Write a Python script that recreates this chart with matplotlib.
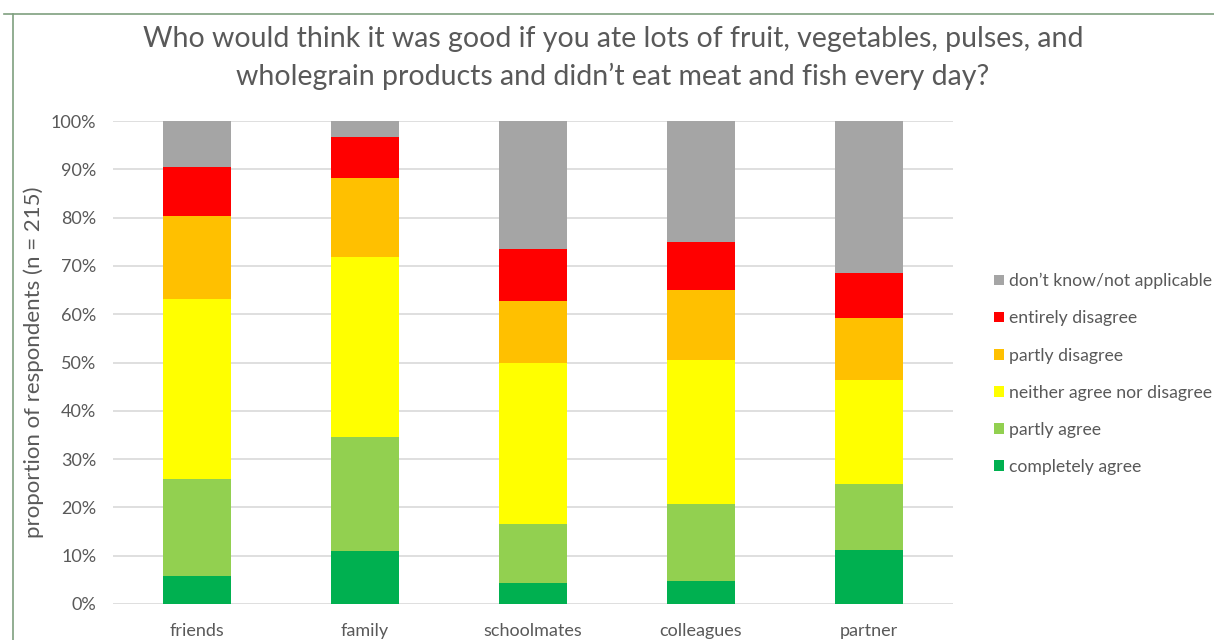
import matplotlib
matplotlib.use("Agg")
import matplotlib.pyplot as plt
from matplotlib.patches import Patch
from matplotlib.ticker import PercentFormatter
from matplotlib.lines import Line2D
import numpy as np

plt.rcParams['font.family'] = ['Lato', 'DejaVu Sans']

categories = ["friends", "family", "schoolmates", "colleagues", "partner"]
series_names = ["completely agree", "partly agree", "neither agree nor disagree",
                "partly disagree", "entirely disagree", "don\u2019t know/not applicable"]
completely_agree = [5.7, 10.9, 4.4, 4.7, 11.2]
partly_agree = [20.1, 23.7, 12.2, 16.0, 13.6]
neither = [37.3, 37.3, 33.4, 29.9, 21.6]
partly_disagree = [17.3, 16.2, 12.8, 14.5, 12.9]
entirely_disagree = [10.1, 8.5, 10.6, 9.8, 9.3]
dont_know = [9.5, 3.4, 26.6, 25.1, 31.4]
colors = ["#00B050", "#92D050", "#FFFF00", "#FFC000", "#FF0000", "#A5A5A5"]

series = [completely_agree, partly_agree, neither, partly_disagree,
          entirely_disagree, dont_know]

W, H = 1214, 640
fig = plt.figure(figsize=(W / 100, H / 100), dpi=100)
ax = fig.add_axes([113 / W, (H - 604) / H, (953 - 113) / W, (604 - 121) / H])

x = np.arange(len(categories))
bottom = np.zeros(len(categories))
handles = []
for name, vals, c in zip(series_names, series, colors):
    v = np.array(vals)
    ax.bar(x, v, width=0.4, bottom=bottom, color=c, zorder=3, linewidth=0)
    bottom += v
    handles.append(Patch(facecolor=c, label=name))

ax.set_xlim(-0.5, 4.5)
ax.set_ylim(0, 100)
ax.set_yticks(np.arange(0, 101, 10))
ax.yaxis.set_major_formatter(PercentFormatter(100, decimals=0))
ax.set_xticks(x)
ax.set_xticklabels(categories)
ax.grid(axis='y', color='#D9D9D9', linewidth=1.2, zorder=0)
for s in ax.spines.values():
    s.set_visible(False)
ax.tick_params(axis='both', length=0, colors='#595959', labelsize=13)
ax.tick_params(axis='y', pad=12)
ax.tick_params(axis='x', pad=14)
ax.set_ylabel("proportion of respondents (n = 215)", fontsize=16,
              color='#595959', labelpad=5)

fig.text(613 / W, 1 - 58 / H,
         "Who would think it was good if you ate lots of fruit, vegetables, pulses, and\n"
         "wholegrain products and didn\u2019t eat meat and fish every day?",
         ha='center', va='center', fontsize=20.5, color='#595959', linespacing=1.5)

leg = fig.legend(handles=handles[::-1], loc='upper left',
                 bbox_to_anchor=(985 / W, 1 - 264 / H), frameon=False,
                 fontsize=12.7, labelspacing=1.2, handlelength=0.55,
                 handleheight=0.55, handletextpad=0.3, borderpad=0)
for t in leg.get_texts():
    t.set_color('#595959')

# outer frame lines
fig.add_artist(Line2D([4 / W, 1], [1 - 14 / H, 1 - 14 / H], color='#7FA07F',
                      linewidth=1.2, transform=fig.transFigure))
fig.add_artist(Line2D([13 / W, 13 / W], [0, 1 - 14 / H], color='#7FA07F',
                      linewidth=1.2, transform=fig.transFigure))

fig.savefig("out.png", dpi=100)
